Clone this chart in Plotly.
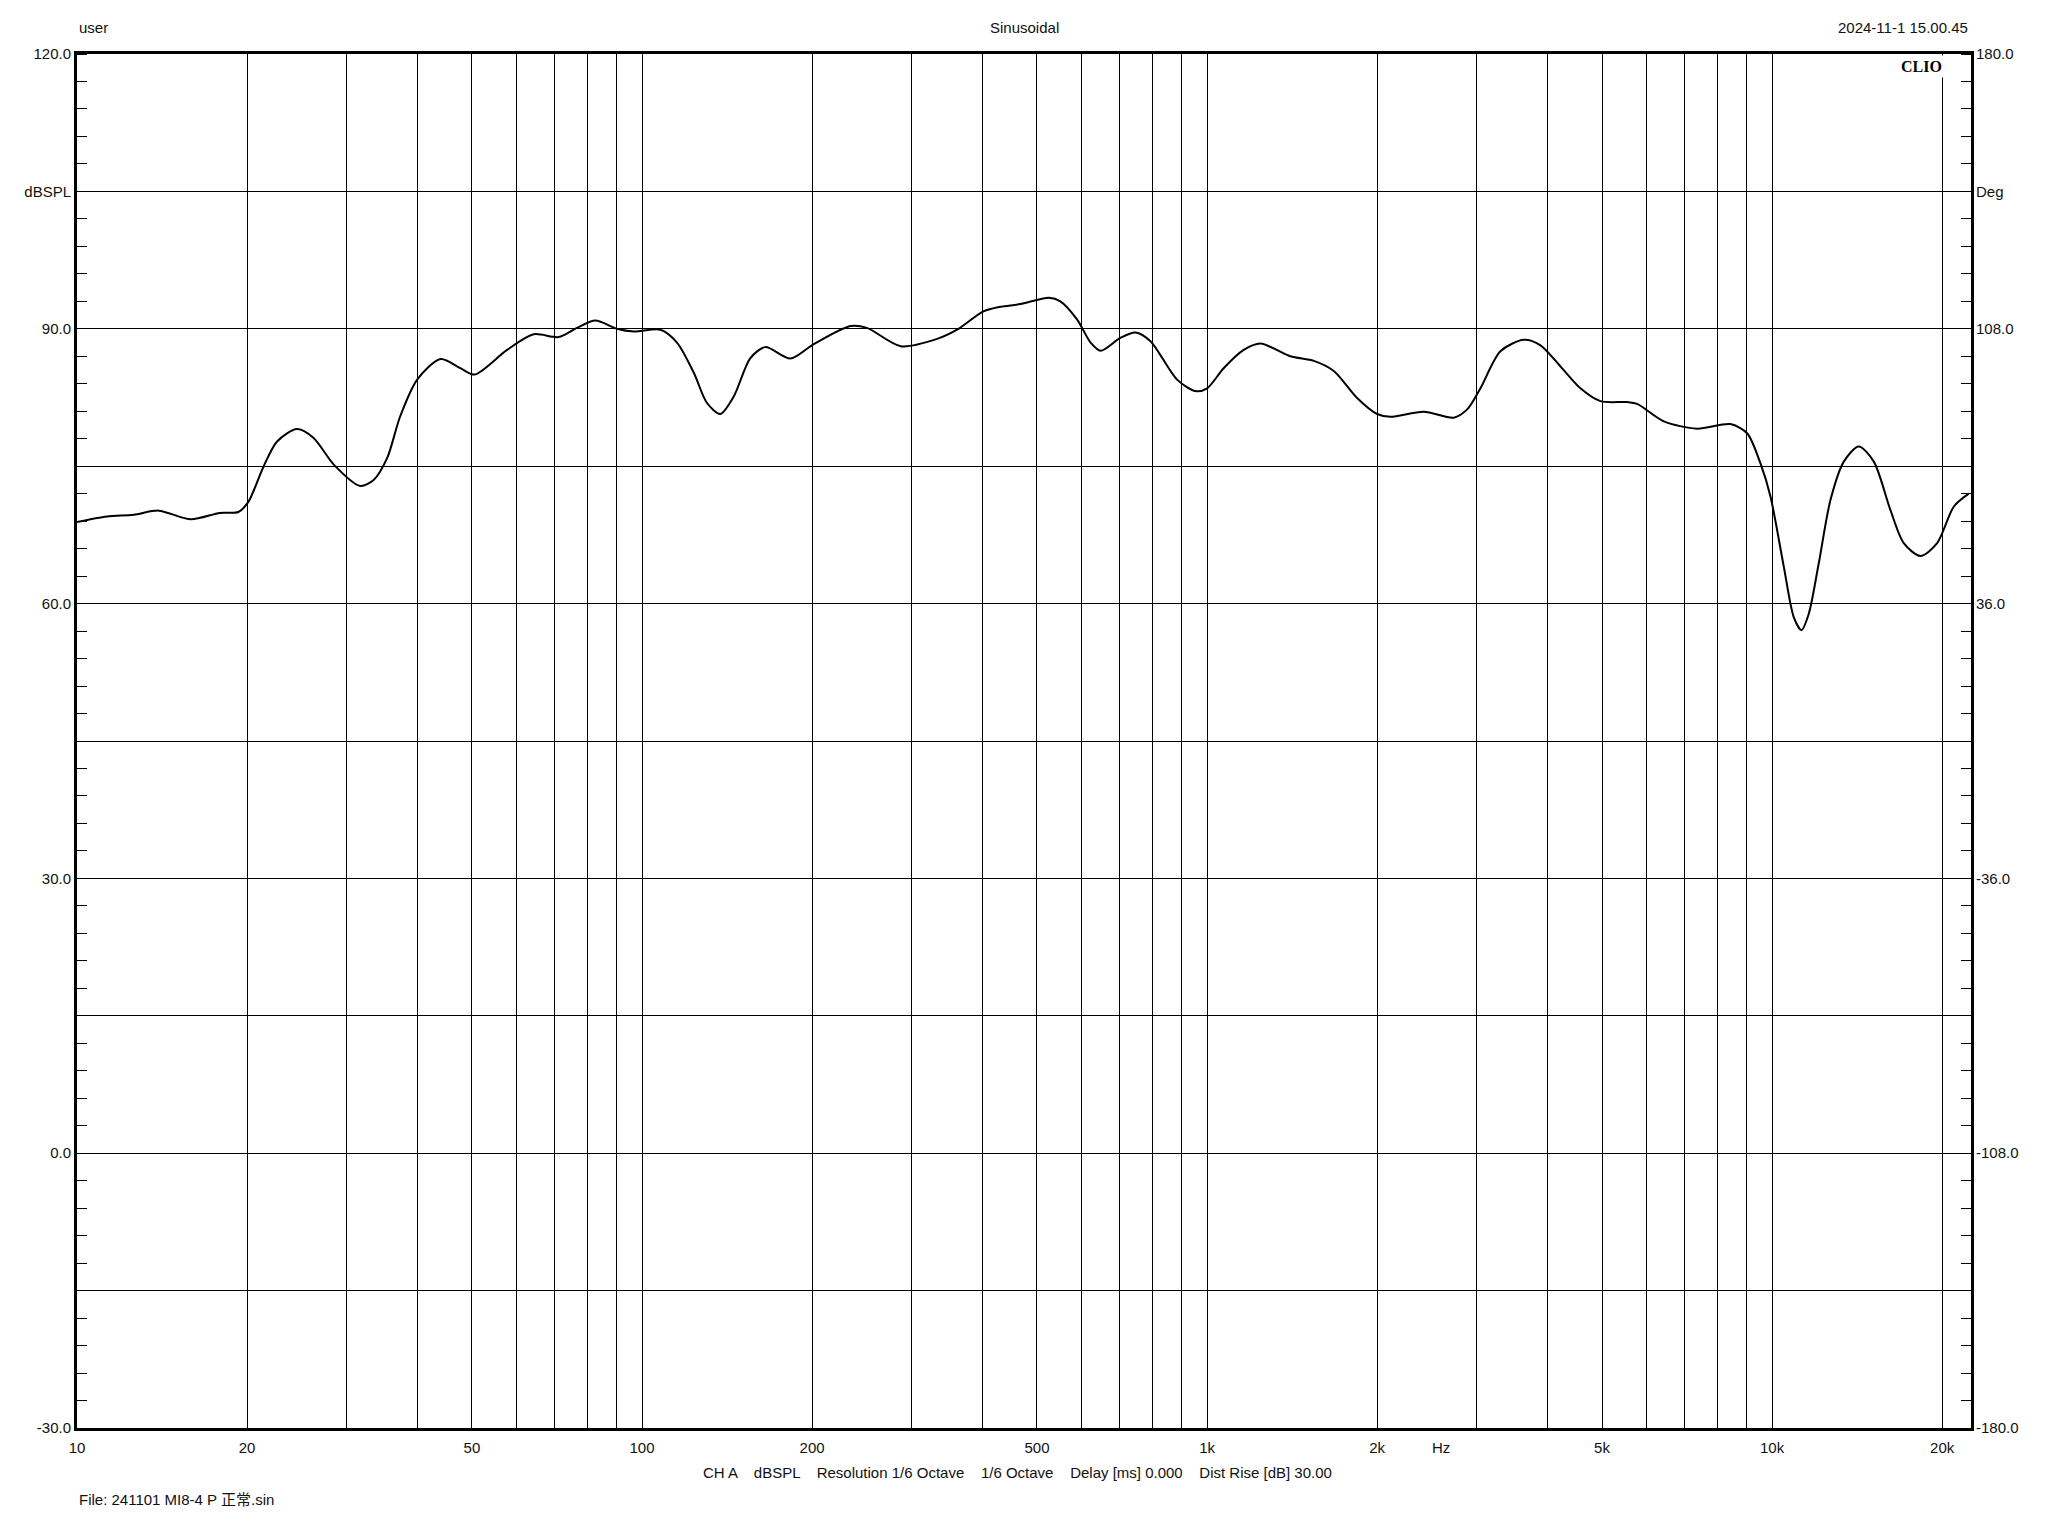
import plotly.graph_objects as go

# ---- data ----
freq_hz = [10, 11.3, 12.6, 13.95, 15.9, 17.9, 19.3, 20.1, 21.4, 22.6, 24.5, 26.2, 28.5, 31.7, 33.5,
           35.4, 37.3, 40.0, 44.0, 47.7, 50.5, 57.7, 64.3, 71.2, 76.7, 82.7, 90.3, 96.7, 107.8, 115.3,
           123.5, 130.3, 137.6, 145.3, 155.5, 165.3, 183, 201, 234, 250, 287, 333, 361, 402, 431,
           467, 525, 550, 589, 622, 648, 702, 747, 794, 885, 954, 1000, 1070, 1161, 1243,
           1404, 1545, 1676, 1843, 2000, 2111, 2418, 2733, 2886, 3046, 3305, 3636, 3891, 4220, 4579,
           4968, 5539, 5770, 6432, 7367, 8438, 9033, 9537, 9933, 10490, 10925, 11270, 11612, 12094, 12684,
           13394, 14236, 15135, 16198, 17100, 18302, 19590, 20973, 22290]
spl_db = [68.9, 69.5, 69.7, 70.15, 69.2, 69.9, 70.0, 71.1, 75.0, 77.7, 79.05, 78.1, 75.15, 72.85, 73.5,
          75.9, 80.4, 84.45, 86.7, 85.7, 85.0, 87.7, 89.4, 89.1, 90.1, 90.9, 90.0, 89.7, 89.9, 88.5,
          85.2, 81.9, 80.7, 82.6, 86.8, 88.0, 86.75, 88.3, 90.3, 90.1, 88.1, 88.9, 89.9, 91.9, 92.4,
          92.7, 93.4, 93.0, 91.0, 88.5, 87.6, 89.0, 89.6, 88.65, 84.45, 83.2, 83.5, 85.7, 87.7, 88.4,
          87.0, 86.5, 85.4, 82.45, 80.7, 80.4, 80.95, 80.3, 81.2, 83.5, 87.55, 88.8, 88.2, 85.9, 83.5,
          82.1, 82.0, 81.8, 79.9, 79.1, 79.6, 78.6, 75.3, 71.7, 64.0, 58.5, 57.1, 58.9, 64.4, 71.3,
          75.5, 77.15, 75.5, 70.2, 66.6, 65.2, 66.6, 70.6, 72.0]

x_tick_vals = [10, 20, 30, 40, 50, 60, 70, 80, 90, 100, 200, 300, 400, 500, 600, 700, 800, 900,
               1000, 2000, 3000, 4000, 5000, 6000, 7000, 8000, 9000, 10000, 20000]
x_tick_text = ["10", "20", "", "", "50", "", "", "", "", "100", "200", "", "", "500", "", "", "", "",
               "1k", "2k", "", "", "5k", "", "", "", "", "10k", "20k"]

y_tick_vals = [-30, -15, 0, 15, 30, 45, 60, 75, 90, 105, 120]
y_tick_text = ["-30.0", "", "0.0", "", "30.0", "", "60.0", "", "90.0", "dBSPL", "120.0"]

y2_tick_vals = [-180, -144, -108, -72, -36, 0, 36, 72, 108, 144, 180]
y2_tick_text = ["-180.0", "", "-108.0", "", "-36.0", "", "36.0", "", "108.0", "Deg", "180.0"]

footer_parts = ["CH A", "dBSPL", "Resolution 1/6 Octave", "1/6 Octave", "Delay [ms] 0.000", "Dist Rise [dB] 30.00"]

# ---- layout geometry (page has an 8px body margin) ----
OFF = 8
W, H = 2048 - 2 * OFF, 1536 - 2 * OFF
PL, PT, PW, PH = 77, 54, 1894, 1374          # plot area in page pixels
L, T = PL - OFF, PT - OFF
R, B = W - L - PW, H - T - PH


def px(xp):
    return (xp - PL) / PW


def py(yp):
    return (PT + PH - yp) / PH


FONT = "Liberation Sans, Arial, sans-serif"
TXT = dict(family=FONT, size=15, color="#111")

fig = go.Figure()
fig.add_trace(go.Scatter(x=freq_hz, y=spl_db, mode="lines",
                         line=dict(color="black", width=2, shape="spline", smoothing=0.8),
                         showlegend=False, hoverinfo="skip"))
fig.add_trace(go.Scatter(x=[], y=[], yaxis="y2", mode="lines", showlegend=False, hoverinfo="skip"))

fig.update_layout(
    width=W, height=H,
    margin=dict(l=L, r=R, t=T, b=B, pad=0),
    paper_bgcolor="white", plot_bgcolor="white",
    font=TXT,
    xaxis=dict(type="log", range=[1, 4.352], tickmode="array",
               tickvals=x_tick_vals, ticktext=x_tick_text,
               showgrid=True, gridcolor="black", gridwidth=1,
               showline=True, linecolor="black", linewidth=3, mirror=True,
               ticks="", ticklabelstandoff=4, zeroline=False, tickfont=TXT),
    yaxis=dict(range=[-30, 120], tickmode="array",
               tickvals=y_tick_vals, ticktext=y_tick_text,
               showgrid=True, gridcolor="black", gridwidth=1,
               showline=True, linecolor="black", linewidth=3, mirror=True,
               ticks="", ticklabelstandoff=0, zeroline=False, tickfont=TXT,
               minor=dict(tickmode="linear", tick0=-30, dtick=3, ticks="inside",
                          ticklen=10, tickwidth=1, tickcolor="black", showgrid=False)),
    yaxis2=dict(range=[-180, 180], overlaying="y", side="right", tickmode="array",
                tickvals=y2_tick_vals, ticktext=y2_tick_text,
                showgrid=False, showline=False, zeroline=False,
                ticks="", ticklabelstandoff=4, tickfont=TXT,
                minor=dict(tickmode="linear", tick0=-180, dtick=7.2, ticks="inside",
                           ticklen=10, tickwidth=1, tickcolor="black", showgrid=False)),
)

footer = " &nbsp; &nbsp;".join(footer_parts)

annotations = [
    dict(text="user", x=0, y=py(28), xanchor="left", yanchor="middle"),
    dict(text="Sinusoidal", x=px(1024), y=py(28), xanchor="center", yanchor="middle"),
    dict(text="2024-11-1 15.00.45", x=px(1970), y=py(28), xanchor="right", yanchor="middle"),
    dict(text="Hz", x=px(1441), y=py(1447), xanchor="center", yanchor="middle"),
    dict(text=footer, x=px(1017), y=py(1473), xanchor="center", yanchor="middle"),
    dict(text="File: 241101 MI8-4 P 正常.sin", x=0, y=py(1500), xanchor="left", yanchor="middle",
         font=dict(family=FONT + ", Noto Sans CJK SC", size=15, color="#111")),
    dict(text="<b>CLIO</b>", x=px(1945), y=py(55), xanchor="right", yanchor="top",
         bgcolor="white", borderpad=2,
         font=dict(family="Liberation Serif, DejaVu Serif, serif", size=16, color="black")),
]
for a in annotations:
    a.setdefault("font", TXT)
    fig.add_annotation(xref="paper", yref="paper", showarrow=False, **a)

fig.write_html("out.html")
